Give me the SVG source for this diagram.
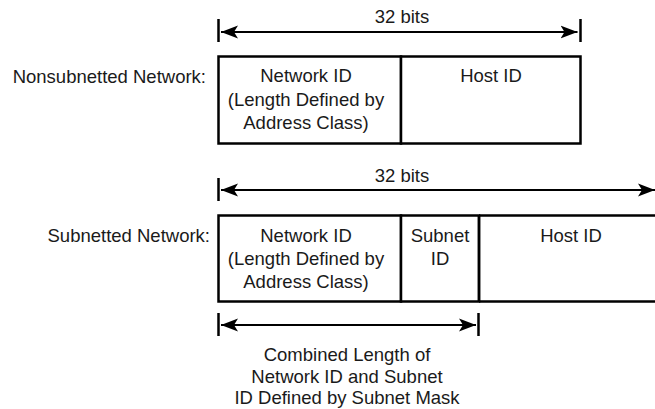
<svg xmlns="http://www.w3.org/2000/svg" width="655" height="409" viewBox="0 0 655 409">
<style>
text{font-family:"Liberation Sans",Arial,Helvetica,sans-serif;font-size:18.5px;fill:#1a1a1a}
.c{text-anchor:middle}
.e{text-anchor:end}
.box{fill:#fff;stroke:#000;stroke-width:2.5}
.tick{stroke:#000;stroke-width:2.5}
.shaft{stroke:#000;stroke-width:2;fill:none;marker-start:url(#ah);marker-end:url(#ah)}
</style>
<defs>
<marker id="ah" markerUnits="userSpaceOnUse" markerWidth="20" markerHeight="16" viewBox="0 0 20 16" refX="17" refY="8" orient="auto-start-reverse">
<path d="M0,1.5 L17,8 L0,14.5 L4,8 Z" fill="#000"/>
</marker>
</defs>
<rect width="655" height="409" fill="#fff"/>

<g id="label-nonsubnetted"><text class="e" x="206" y="83">Nonsubnetted Network:</text></g>
<g id="label-subnetted"><text class="e" x="210" y="242">Subnetted Network:</text></g>

<g id="top-network-id">
<rect class="box" x="218.5" y="56.5" width="182.5" height="87"/>
<text class="c" x="306" y="82">Network ID</text>
<text class="c" x="306" y="106">(Length Defined by</text>
<text class="c" x="306" y="129">Address Class)</text>
</g>
<g id="top-host-id">
<rect class="box" x="401" y="56.5" width="179.5" height="87"/>
<text class="c" x="491" y="82">Host ID</text>
</g>

<g id="bottom-network-id">
<rect class="box" x="218.5" y="215.5" width="182.5" height="86"/>
<text class="c" x="306" y="242">Network ID</text>
<text class="c" x="306" y="265">(Length Defined by</text>
<text class="c" x="306" y="288">Address Class)</text>
</g>
<g id="bottom-subnet-id">
<rect class="box" x="401" y="215.5" width="78" height="86"/>
<text class="c" x="440" y="242">Subnet</text>
<text class="c" x="440" y="265">ID</text>
</g>
<g id="bottom-host-id">
<path class="box" d="M479,215.5 H657 M479,301.5 H657 M479,215.5 V301.5"/>
<text class="c" x="571" y="242">Host ID</text>
</g>

<g id="dim-labels">
<text class="c" x="402" y="23">32 bits</text>
<text class="c" x="402" y="182">32 bits</text>
<text class="c" x="347" y="361">Combined Length of</text>
<text class="c" x="347" y="383">Network ID and Subnet</text>
<text class="c" x="347" y="404">ID Defined by Subnet Mask</text>
</g>

<g id="connectors">
<line class="tick" x1="218.5" y1="19" x2="218.5" y2="42"/>
<line class="tick" x1="580.5" y1="19" x2="580.5" y2="42"/>
<line class="shaft" x1="221" y1="32" x2="577.5" y2="32"/>
<line class="tick" x1="218.5" y1="178" x2="218.5" y2="201"/>
<line class="shaft" x1="221" y1="190" x2="655" y2="190"/>
<line class="tick" x1="218.5" y1="313" x2="218.5" y2="336"/>
<line class="tick" x1="478.5" y1="313" x2="478.5" y2="336"/>
<line class="shaft" x1="221" y1="325" x2="476" y2="325"/>
</g>
</svg>
